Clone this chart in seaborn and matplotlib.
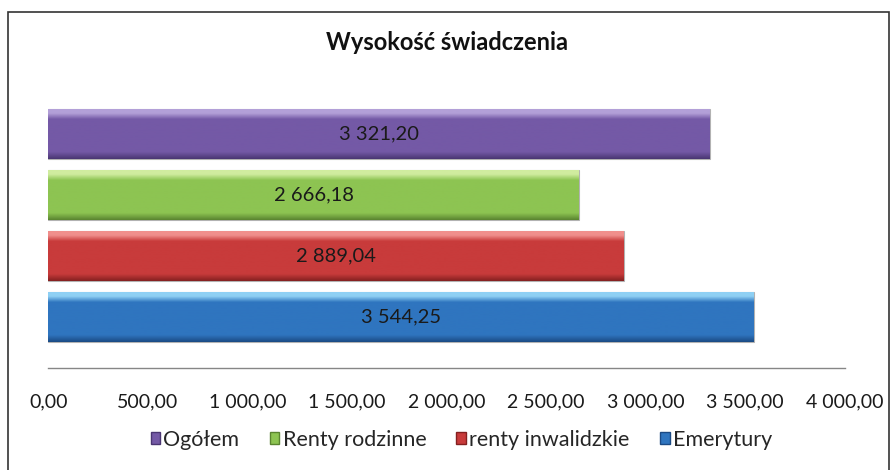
import numpy as np
import pandas as pd
import matplotlib
matplotlib.use("Agg")
import matplotlib.pyplot as plt
import seaborn as sns
from matplotlib.colors import LinearSegmentedColormap
from matplotlib.patches import Patch, Rectangle

# data (top to bottom as drawn)
categories = ["Ogółem", "Renty rodzinne", "renty inwalidzkie", "Emerytury"]
values = [3321.20, 2666.18, 2889.04, 3544.25]
x_ticks = [0, 500, 1000, 1500, 2000, 2500, 3000, 3500, 4000]

# bar colours: (light top, base, dark bottom)
shades = {
    "Ogółem": ("#b3a0d8", "#7459a6", "#4a3672"),
    "Renty rodzinne": ("#d0ec9f", "#8dc452", "#5a8430"),
    "renty inwalidzkie": ("#f08f8c", "#c83b3b", "#842020"),
    "Emerytury": ("#8fd0f4", "#2f75bf", "#1b4a84"),
}


def pl_fmt(v):
    return f"{v:,.2f}".replace(",", " ").replace(".", ",")


df = pd.DataFrame({"kategoria": categories, "wartosc": values})

sns.set_style("white")
plt.rcParams["font.family"] = ["Lato", "DejaVu Sans"]

fig = plt.figure(figsize=(8.94, 4.70), dpi=100)
ax = fig.add_axes([0.054, 0.217, 0.891, 0.57])

sns.barplot(data=df, y="kategoria", x="wartosc", hue="kategoria",
            palette={k: v[1] for k, v in shades.items()}, orient="h",
            width=0.82, legend=False, ax=ax)

# gradient fill for each bar (Excel-like bevel)
for patch, cat in zip(ax.patches, categories):
    light, base, dark = shades[cat]
    cmap = LinearSegmentedColormap.from_list(
        cat, [(0.0, light), (0.08, light), (0.2, base), (0.86, base), (1.0, dark)])
    grad = np.linspace(0, 1, 128).reshape(-1, 1)
    x0, y0 = patch.get_x(), patch.get_y()
    w, h = patch.get_width(), patch.get_height()
    im = ax.imshow(grad, cmap=cmap, aspect="auto", origin="upper",
                   extent=(x0, x0 + w, y0 + h, y0), zorder=2)
    im.set_clip_path(patch)
    patch.set_facecolor("none")
    patch.set_edgecolor((0, 0, 0, 0.3))
    patch.set_linewidth(0.8)
    ax.text(x0 + w / 2, y0 + h / 2, pl_fmt(w), ha="center", va="center",
            fontsize=14.5, color="#1a1a1a", zorder=3)

ax.set_xlim(0, 4000)
ax.set_ylim(3.84, -0.56)
ax.set_xticks(x_ticks)
ax.set_xticklabels([pl_fmt(t) for t in x_ticks], fontsize=14, color="#1a1a1a")
ax.tick_params(axis="x", length=0, pad=18)
ax.set_yticks([])
ax.set_xlabel("")
ax.set_ylabel("")
for side in ["top", "right", "left"]:
    ax.spines[side].set_visible(False)
ax.spines["bottom"].set_color("#868686")
ax.spines["bottom"].set_linewidth(1.0)

fig.text(0.5, 0.91, "Wysokość świadczenia", ha="center", va="center",
         fontsize=17, fontweight="bold", color="#111111")

handles = [Patch(facecolor=shades[c][1], edgecolor=shades[c][2], label=c)
           for c in categories]
fig.legend(handles=handles, loc="center", bbox_to_anchor=(0.516, 0.064),
           ncol=4, frameon=False, fontsize=15.5, handlelength=0.45,
           handleheight=0.45, handletextpad=0.15, columnspacing=1.4)

# chart border
fig.patches.append(Rectangle((8 / 894, -0.05), 881 / 894, 1.05 - 12 / 470,
                             transform=fig.transFigure, fill=False,
                             edgecolor="#333333", linewidth=1.2))

fig.savefig("out.png", dpi=100, facecolor="white")
